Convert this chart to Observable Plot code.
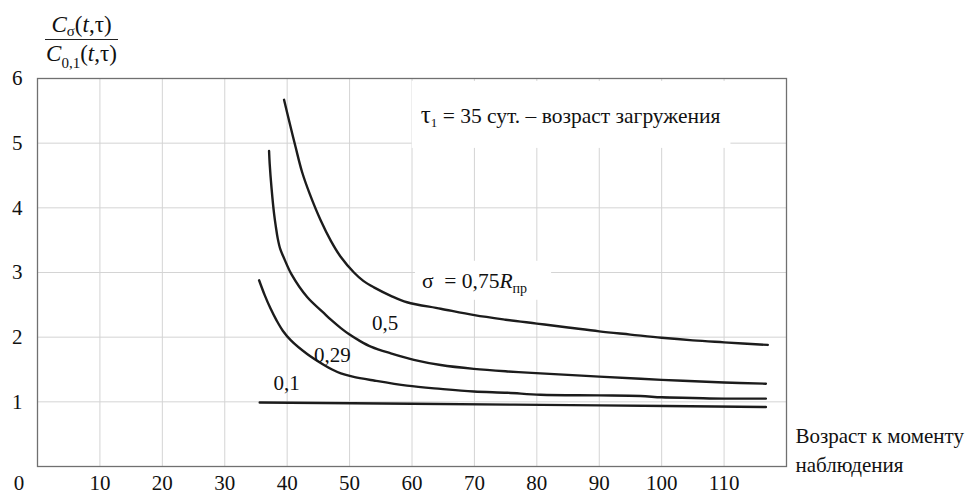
<!DOCTYPE html>
<html><head><meta charset="utf-8">
<script src="https://cdn.jsdelivr.net/npm/d3@7"></script>
<script src="https://cdn.jsdelivr.net/npm/@observablehq/plot@0.6"></script>
<style>
body{margin:0;background:#fff;}
#wrap{position:relative;width:967px;height:495px;font-family:"Liberation Serif","Times New Roman",serif;color:#111;}
#wrap svg, #wrap svg text{font-family:"Liberation Serif","Times New Roman",serif !important;}
#ylab{position:absolute;left:45px;top:12px;width:73px;font-size:23px;text-align:center;white-space:nowrap;}
#ylab .num{line-height:26px;height:27px;}
#ylab .den{border-top:1.3px solid #222;line-height:26px;padding-top:1px;}
#ylab sub{font-size:15px;line-height:0;vertical-align:-4px;}
#ylab .s2{vertical-align:-7px;}
</style></head>
<body>
<div id="wrap">
  <div id="ylab">
    <div class="num"><i>C</i><sub>σ</sub>(<i>t</i>,τ)</div>
    <div class="den"><i>C</i><sub class="s2">0,1</sub>(<i>t</i>,τ)</div>
  </div>
</div>
<script>
// Tick values
const xTicks = [10, 20, 30, 40, 50, 60, 70, 80, 90, 100, 110];
const yTicks = [1, 2, 3, 4, 5, 6];

// Curve σ = 0,75 Rпр
const age075 = [39.5, 40.3, 41.35, 42.4, 43.6, 45.4, 47.0, 48.6, 50.7, 52.2, 53.9, 56.6, 59.2, 64.6, 70, 75, 80, 85, 90, 95, 100, 105, 110, 117];
const val075 = [5.67, 5.35, 4.94, 4.55, 4.22, 3.80, 3.49, 3.24, 3.00, 2.87, 2.77, 2.64, 2.54, 2.44, 2.34, 2.27, 2.21, 2.15, 2.09, 2.04, 1.99, 1.95, 1.92, 1.88];
// Curve σ = 0,5
const age05 = [37.1, 37.2, 37.5, 37.9, 38.2, 38.5, 38.9, 39.5, 40.7, 43.2, 45.9, 47.0, 48.6, 50.0, 51.5, 53.5, 56.6, 60.3, 64.6, 69.9, 75.3, 80.6, 90, 100, 110, 116.7];
const val05 = [4.88, 4.68, 4.30, 3.91, 3.70, 3.52, 3.36, 3.22, 2.97, 2.62, 2.37, 2.27, 2.14, 2.04, 1.95, 1.85, 1.75, 1.65, 1.57, 1.51, 1.47, 1.44, 1.39, 1.34, 1.30, 1.28];
// Curve σ = 0,29
const age029 = [35.5, 36.4, 37.3, 38.3, 39.3, 40.6, 43.2, 45.9, 47.2, 48.6, 50.5, 53.9, 59.2, 64.6, 69.9, 75.3, 80.6, 90, 96.6, 100, 105, 110, 116.7];
const val029 = [2.88, 2.65, 2.45, 2.26, 2.10, 1.95, 1.74, 1.57, 1.50, 1.44, 1.39, 1.33, 1.25, 1.20, 1.16, 1.14, 1.11, 1.10, 1.09, 1.07, 1.06, 1.05, 1.05];
// Curve σ = 0,1
const age01 = [35.6, 60, 90, 116.7];
const val01 = [0.99, 0.97, 0.945, 0.92];

const seriesNames = ["0,75", "0,5", "0,29", "0,1"];
const seriesAges = [age075, age05, age029, age01];
const seriesVals = [val075, val05, val029, val01];

// Curve labels (anchor in data units)
const labelTexts = ["0,1", "0,29", "0,5"];
const labelAges = [37.8, 44.3, 53.6];
const labelVals = [1.28, 1.72, 2.21];

const TAU_TEXT = "τ1 = 35 сут. – возраст загружения";
const SIGMA_TEXT = "σ = 0,75Rпр";
const noteTexts = [TAU_TEXT, SIGMA_TEXT];
const noteAges = [61.4, 61.6];
const noteVals = [5.42, 2.87];

const X_TITLE = "Возраст к моменту\nнаблюдения";

const rows = seriesNames.flatMap((s, i) => seriesAges[i].map((t, j) => ({s, t, r: seriesVals[i][j]})));
const curveLabels = labelTexts.map((text, i) => ({text, t: labelAges[i], r: labelVals[i]}));
const notes = noteTexts.map((text, i) => ({text, t: noteAges[i], r: noteVals[i]}));

const plot = Plot.plot({
  width: 967,
  height: 495,
  marginTop: 78,
  marginBottom: 29,
  marginLeft: 37,
  marginRight: 181,
  style: {fontFamily: "Liberation Serif, serif", fontSize: "21px", color: "#111", background: "white", overflow: "visible"},
  x: {domain: [0, 120]},
  y: {domain: [0, 6]},
  marks: [
    Plot.ruleX(xTicks, {stroke: "#d4d4d4", strokeWidth: 1}),
    Plot.ruleY(yTicks.filter(v => v < 6), {stroke: "#d4d4d4", strokeWidth: 1}),
    Plot.frame({stroke: "#707070", strokeWidth: 1.3}),
    Plot.axisX({ticks: xTicks, tickSize: 0, tickPadding: 9, tickFormat: d => String(d), label: null, fontSize: 21}),
    Plot.axisX({ticks: [0], tickSize: 0, tickPadding: 9, tickFormat: d => String(d), dx: -18.5, label: null, fontSize: 21}),
    Plot.axisY({ticks: yTicks, tickSize: 0, tickPadding: 15, tickFormat: d => String(d), label: null, fontSize: 21}),
    Plot.line(rows, {x: "t", y: "r", z: "s", curve: "catmull-rom", stroke: "#1c1c1c", strokeWidth: 2.4}),
    Plot.text(curveLabels, {x: "t", y: "r", text: "text", textAnchor: "start", fontSize: 21}),
    Plot.text(notes, {x: "t", y: "r", text: "text", textAnchor: "start", fontSize: 21.5}),
    Plot.text([X_TITLE], {frameAnchor: "bottom-right", textAnchor: "start", lineAnchor: "top", dx: 9, dy: -44, lineHeight: 1.38, fontSize: 21})
  ]
});

document.getElementById("wrap").appendChild(plot);

// Rich text: subscripts / italics and white background boxes for the notes
const svgNode = plot.tagName.toLowerCase() === "svg" ? plot : plot.querySelector("svg");
d3.select(svgNode).selectAll("text").each(function () {
  const t = this.textContent;
  let pads = null;
  if (t === TAU_TEXT) {
    this.textContent = "";
    const el = d3.select(this);
    el.append("tspan").attr("font-size", 25).text("τ");
    el.append("tspan").attr("font-size", 13).attr("dy", 4).text("1");
    el.append("tspan").attr("dy", -4).text(" = 35 сут. – возраст загружения");
    pads = [9, 10, 20, 18];
  } else if (t === SIGMA_TEXT) {
    this.textContent = "";
    const el = d3.select(this).attr("xml:space", "preserve").style("white-space", "pre");
    el.append("tspan").text("σ\u00a0\u00a0= 0,75");
    el.append("tspan").attr("font-style", "italic").text("R");
    el.append("tspan").attr("font-size", 14).attr("dy", 5).text("пр");
    pads = [7, 24, 8, 4];
  }
  if (pads) {
    const bb = this.getBBox();
    const r = document.createElementNS("http://www.w3.org/2000/svg", "rect");
    r.setAttribute("x", bb.x - pads[0]);
    r.setAttribute("y", bb.y - pads[2]);
    r.setAttribute("width", bb.width + pads[0] + pads[1]);
    r.setAttribute("height", bb.height + pads[2] + pads[3]);
    r.setAttribute("fill", "white");
    const tr = this.getAttribute("transform");
    if (tr) r.setAttribute("transform", tr);
    this.parentNode.insertBefore(r, this);
  }
});
</script>
</body></html>
